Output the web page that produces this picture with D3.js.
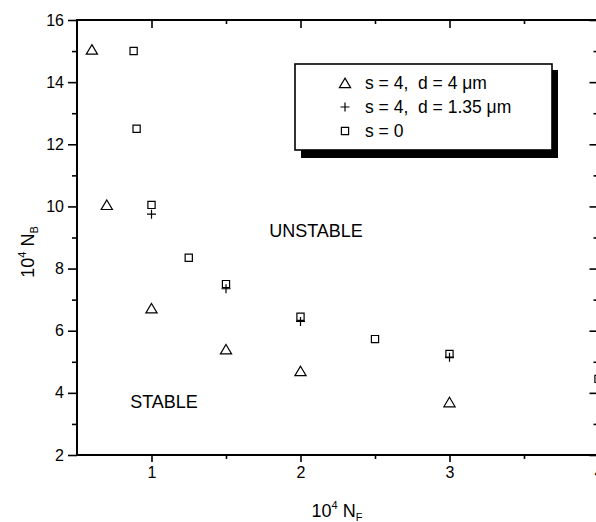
<!DOCTYPE html>
<html>
<head>
<meta charset="utf-8">
<script src="https://cdn.jsdelivr.net/npm/d3@7"></script>
<style>
  html, body { margin: 0; padding: 0; background: #fff; }
  svg { display: block; font-family: "Liberation Sans", Arial, sans-serif; }
  .tick text { font-size: 16px; fill: #000; }
</style>
</head>
<body>
<svg id="chart" width="596" height="522"></svg>
<script>
// s = 4, d = 4 um  (triangles)
const SERIES_TRI = [[0.6, 15.05], [0.7, 10.05], [1.0, 6.72], [1.5, 5.4], [2.0, 4.7], [3.0, 3.7]];
// s = 4, d = 1.35 um  (plus)
const SERIES_PLUS = [[1.0, 9.75], [1.5, 7.35], [2.0, 6.3], [3.0, 5.15]];
// s = 0  (squares)
const SERIES_SQ = [[0.88, 15], [0.9, 12.5], [1.0, 10.05], [1.25, 8.35], [1.5, 7.5],
                   [2.0, 6.45], [2.5, 5.73], [3.0, 5.25], [4.0, 4.45]];

const X_MAJOR = [1, 2, 3, 4];
const X_MINOR = [1.5, 2.5, 3.5];
const Y_MAJOR = [2, 4, 6, 8, 10, 12, 14, 16];
const Y_MINOR = [3, 5, 7, 9, 11, 13, 15];

const LEGEND_LABELS = ['s = 4,  d = 4 \u03bcm', 's = 4,  d = 1.35 \u03bcm', 's = 0'];

(function () {
  'use strict';

  const svg = d3.select('#chart');
  const left = 77, top = 20, bottom = 455, right = 598.5;

  const x = d3.scaleLinear().domain([0.5, 4]).range([left, right]);
  const y = d3.scaleLinear().domain([2, 16]).range([bottom, top]);

  // marker shapes (local coords)
  const TRI = 'M0,-4.9L5.6,4.6L-5.6,4.6Z';
  const SQ = 'M-3.6,-3.6H3.6V3.6H-3.6Z';
  const PLUS = 'M-4.5,0H4.5M0,-4.5V4.5';

  function axisStyle(g) {
    g.select('.domain').remove();
    g.selectAll('.tick line').attr('stroke', '#000').attr('stroke-width', 1.6);
  }

  // bottom axis
  svg.append('g').attr('transform', `translate(0,${bottom})`)
    .call(d3.axisBottom(x).tickValues(X_MAJOR).tickSize(7).tickPadding(5).tickFormat(d3.format('d')))
    .call(axisStyle);
  svg.append('g').attr('transform', `translate(0,${bottom})`)
    .call(d3.axisBottom(x).tickValues(X_MINOR).tickSize(4).tickFormat(''))
    .call(axisStyle);

  // top axis (inward)
  svg.append('g').attr('transform', `translate(0,${top})`)
    .call(d3.axisTop(x).tickValues(X_MAJOR).tickSize(-8).tickFormat(''))
    .call(axisStyle);
  svg.append('g').attr('transform', `translate(0,${top})`)
    .call(d3.axisTop(x).tickValues(X_MINOR).tickSize(-4).tickFormat(''))
    .call(axisStyle);

  // left axis
  svg.append('g').attr('transform', `translate(${left},0)`)
    .call(d3.axisLeft(y).tickValues(Y_MAJOR).tickSize(9).tickPadding(4).tickFormat(d3.format('d')))
    .call(axisStyle);
  svg.append('g').attr('transform', `translate(${left},0)`)
    .call(d3.axisLeft(y).tickValues(Y_MINOR).tickSize(5).tickFormat(''))
    .call(axisStyle);

  // right axis (inward)
  svg.append('g').attr('transform', `translate(${right},0)`)
    .call(d3.axisRight(y).tickValues(Y_MAJOR).tickSize(-9).tickFormat(''))
    .call(axisStyle);
  svg.append('g').attr('transform', `translate(${right},0)`)
    .call(d3.axisRight(y).tickValues(Y_MINOR).tickSize(-5).tickFormat(''))
    .call(axisStyle);

  // frame
  svg.append('rect')
    .attr('x', left).attr('y', top)
    .attr('width', right - left).attr('height', bottom - top)
    .attr('fill', 'none').attr('stroke', '#000').attr('stroke-width', 2);

  // region labels
  svg.append('text').attr('x', 316).attr('y', 237).attr('text-anchor', 'middle')
    .attr('font-size', 18).text('UNSTABLE');
  svg.append('text').attr('x', 164).attr('y', 408).attr('text-anchor', 'middle')
    .attr('font-size', 18).text('STABLE');

  // data
  function drawSeries(data, shape, cls) {
    svg.append('g').attr('class', cls)
      .selectAll('path')
      .data(data)
      .join('path')
      .attr('transform', d => `translate(${x(d[0])},${y(d[1])})`)
      .attr('d', shape)
      .attr('fill', 'none')
      .attr('stroke', '#000')
      .attr('stroke-width', 1.2);
  }
  drawSeries(SERIES_SQ, SQ, 'sq');
  drawSeries(SERIES_PLUS, PLUS, 'plus');
  drawSeries(SERIES_TRI, TRI, 'tri');

  // legend
  const lg = svg.append('g');
  lg.append('rect').attr('x', 301).attr('y', 70).attr('width', 257).attr('height', 88).attr('fill', '#000');
  lg.append('rect').attr('x', 295).attr('y', 64).attr('width', 257).attr('height', 86)
    .attr('fill', '#fff').attr('stroke', '#000').attr('stroke-width', 1.6);
  const shapes = [TRI, PLUS, SQ];
  LEGEND_LABELS.forEach((label, i) => {
    const cy = 83 + i * 24;
    lg.append('path').attr('transform', `translate(345,${cy})`).attr('d', shapes[i])
      .attr('fill', 'none').attr('stroke', '#000').attr('stroke-width', 1.2);
    lg.append('text').attr('x', 365).attr('y', cy + 6).attr('font-size', 17.5)
      .attr('xml:space', 'preserve').style('white-space', 'pre')
      .text(label);
  });

  // axis titles
  const xt = svg.append('text').attr('x', 337).attr('y', 517).attr('text-anchor', 'middle').attr('font-size', 18);
  xt.append('tspan').text('10');
  xt.append('tspan').attr('font-size', 11).attr('dy', -8).text('4');
  xt.append('tspan').attr('dy', 8).text(' N');
  xt.append('tspan').attr('font-size', 11).attr('dy', 4).text('F');

  const yt = svg.append('text').attr('transform', 'translate(34,252) rotate(-90)')
    .attr('text-anchor', 'middle').attr('font-size', 18);
  yt.append('tspan').text('10');
  yt.append('tspan').attr('font-size', 11).attr('dy', -8).text('4');
  yt.append('tspan').attr('dy', 8).text(' N');
  yt.append('tspan').attr('font-size', 11).attr('dy', 4).text('B');
})();
</script>
</body>
</html>
